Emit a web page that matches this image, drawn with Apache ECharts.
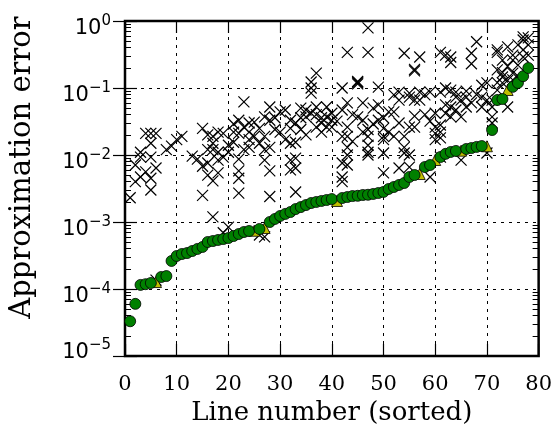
<!DOCTYPE html>
<html>
<head>
<meta charset="utf-8">
<script src="https://cdn.jsdelivr.net/npm/echarts@6/dist/echarts.min.js"></script>
<style>
  html, body { margin: 0; padding: 0; background: #fff; }
  #chart { width: 555px; height: 439px; }
</style>
</head>
<body>
<div id="chart"></div>
<script>
// Approximation error of each line, sorted (line 1 .. 78)
const sortedError = [
  3.3e-5, 6.0e-5, 1.15e-4, 1.18e-4, 1.23e-4, 1.27e-4, 1.51e-4, 1.56e-4, 2.62e-4, 3.11e-4,
  3.33e-4, 3.44e-4, 3.69e-4, 3.96e-4, 4.24e-4, 5.03e-4, 5.20e-4, 5.39e-4, 5.57e-4, 5.77e-4,
  6.18e-4, 6.62e-4, 7.09e-4, 7.34e-4, 7.40e-4, 7.87e-4, 8.13e-4, 1.00e-3, 1.11e-3, 1.23e-3,
  1.32e-3, 1.41e-3, 1.56e-3, 1.67e-3, 1.79e-3, 1.92e-3, 1.99e-3, 2.06e-3, 2.13e-3, 2.20e-3,
  2.06e-3, 2.28e-3, 2.36e-3, 2.44e-3, 2.46e-3, 2.53e-3, 2.55e-3, 2.62e-3, 2.71e-3, 2.81e-3,
  3.11e-3, 3.33e-3, 3.57e-3, 3.82e-3, 4.70e-3, 5.03e-3, 5.20e-3, 6.62e-3, 7.09e-3, 8.42e-3,
  9.34e-3, 1.04e-2, 1.11e-2, 1.15e-2, 1.16e-2, 1.23e-2, 1.27e-2, 1.32e-2, 1.36e-2, 1.35e-2,
  2.36e-2, 6.62e-2, 6.85e-2, 9.34e-2, 1.04e-1, 1.19e-1, 1.50e-1, 1.99e-1
];

// Lines whose sorted error is marked with a triangle instead of a circle
const triangleLines = [6, 25, 27, 41, 57, 60, 65, 70, 74];

// Errors of the alternative approximations, as [line, error]
const otherErrors = [
  [1, 2.3e-3], [2, 7.1e-3], [2, 4.0e-3],
  [3, 1.1e-2], [3, 9.3e-3], [3, 4.7e-3], [4, 2.1e-2], [4, 5.6e-3],
  [5, 1.5e-2], [5, 3.0e-3], [5, 2.1e-2], [5, 9.3e-3], [5, 4.5e-3],
  [6, 6.4e-3], [6, 1.36e-4], [6, 2.1e-2], [8, 1.2e-2], [9, 1.36e-2], [10, 1.7e-2], [11, 1.9e-2],
  [13, 9.6e-3], [14, 8.7e-3], [15, 2.5e-2], [15, 6.8e-3], [15, 2.5e-3],
  [16, 2.0e-2], [16, 7.6e-3], [16, 1.2e-2], [16, 5.0e-3],
  [17, 1.9e-2], [17, 1.2e-2], [17, 4.1e-3], [17, 1.5e-2], [17, 1.19e-3],
  [18, 8.4e-3], [18, 2.2e-2], [18, 1.1e-2], [18, 5.4e-3],
  [19, 9.3e-3], [19, 6.9e-4], [19, 2.1e-2], [20, 1.1e-2], [20, 8.4e-4], [20, 1.4e-2],
  [21, 2.9e-2], [21, 1.55e-2], [21, 2.2e-2],
  [22, 2.1e-2], [22, 8.7e-3], [22, 5.8e-3], [22, 4.5e-3], [22, 2.7e-3], [22, 3.3e-2],
  [23, 1.2e-2], [23, 6.2e-2], [23, 2.6e-2], [24, 3.0e-2], [24, 2.2e-2], [24, 1.7e-2], [24, 1.3e-2],
  [25, 3.1e-2], [25, 1.9e-2], [26, 6.4e-4], [26, 1.5e-2], [26, 2.5e-2],
  [27, 1.9e-2], [27, 1.2e-2], [27, 8.4e-3], [27, 6.0e-4], [27, 3.7e-2],
  [28, 5.2e-2], [28, 3.3e-2], [28, 1.3e-2], [28, 5.8e-3], [28, 2.4e-3],
  [29, 2.4e-2], [29, 3.6e-2], [30, 4.4e-2], [30, 2.2e-2], [31, 4.7e-2], [31, 1.7e-2],
  [32, 3.3e-2], [32, 2.5e-2], [32, 1.5e-2], [32, 8.4e-3], [32, 6.0e-3],
  [33, 3.0e-2], [33, 1.55e-2], [33, 9.0e-3], [33, 6.4e-3], [33, 2.8e-3],
  [34, 5.0e-2], [34, 3.6e-2], [34, 2.4e-2], [35, 4.7e-2], [35, 3.7e-2], [35, 2.0e-2],
  [36, 1.23e-1], [36, 1.0e-1], [36, 8.4e-2], [36, 4.2e-2],
  [37, 5.2e-2], [37, 1.67e-1], [37, 4.0e-2], [37, 2.6e-2],
  [38, 3.6e-2], [38, 3.0e-2], [38, 2.2e-2], [39, 5.2e-2], [39, 2.6e-2], [39, 3.7e-2],
  [40, 4.2e-2], [40, 2.6e-2], [40, 3.3e-2], [41, 3.2e-2],
  [42, 4.7e-2], [42, 1.9e-2], [42, 4.7e-3], [42, 1.0e-1], [42, 7.6e-3], [42, 4.0e-3],
  [43, 1.9e-2], [43, 1.0e-2], [43, 3.4e-1], [43, 2.6e-2], [43, 1.3e-2], [43, 7.1e-3], [43, 6.0e-2],
  [44, 4.0e-2], [44, 1.6e-2],
  [45, 1.15e-1], [45, 1.2e-1], [45, 1.25e-1], [45, 3.7e-2], [46, 6.0e-2], [46, 3.3e-2], [46, 2.2e-2],
  [47, 1.9e-2], [47, 7.9e-1], [47, 3.4e-1], [47, 2.4e-2], [47, 1.4e-2], [47, 1.1e-2], [47, 1.0e-2],
  [48, 5.0e-2], [48, 2.9e-2],
  [49, 1.03e-1], [49, 5.6e-2], [49, 3.3e-2],
  [50, 1.9e-2], [50, 1.07e-2], [50, 5.4e-3], [50, 3.6e-2], [50, 2.5e-2], [50, 1.7e-2],
  [51, 4.4e-2], [51, 2.2e-2],
  [52, 7.9e-2], [52, 1.9e-2], [52, 4.4e-2], [53, 8.7e-2], [53, 3.0e-2], [53, 6.4e-3], [53, 6.6e-2],
  [54, 1.3e-2], [54, 3.3e-1], [54, 1.9e-2], [54, 1.07e-2],
  [55, 1.0e-2], [55, 7.3e-2], [55, 2.6e-2], [55, 6.6e-3], [55, 8.4e-2],
  [56, 6.6e-2], [56, 1.8e-1], [56, 1.9e-1], [56, 2.6e-2], [56, 3.8e-2],
  [57, 2.9e-1], [57, 8.7e-2], [57, 6.6e-2], [58, 7.9e-2], [58, 4.0e-2],
  [59, 8.7e-2], [59, 4.7e-3], [59, 3.2e-2],
  [60, 4.2e-2], [60, 1.7e-2], [60, 2.6e-2], [60, 2.1e-2],
  [61, 3.4e-1], [61, 8.7e-2], [61, 2.8e-2], [61, 2.2e-2], [61, 1.8e-2], [61, 9.3e-3],
  [62, 3.1e-1], [62, 1.0e-1], [62, 4.2e-2], [62, 5.6e-2],
  [63, 2.9e-1], [63, 3.7e-2], [63, 2.4e-1], [63, 9.3e-2], [63, 5.2e-2],
  [64, 7.3e-2], [64, 4.7e-2], [64, 8.7e-2], [65, 6.6e-2], [65, 8.4e-3], [65, 3.7e-2],
  [66, 7.3e-2], [66, 5.2e-2], [66, 9.0e-2], [67, 3.3e-1], [67, 2.3e-1], [67, 6.0e-2],
  [68, 4.9e-1], [68, 8.0e-2],
  [69, 1.1e-1], [69, 7.3e-2], [69, 5.2e-2], [70, 1.19e-1], [70, 6.6e-2], [70, 1.07e-2],
  [71, 6.6e-2], [71, 3.7e-2], [71, 3.0e-2], [71, 5.2e-2],
  [72, 3.4e-1], [72, 1.86e-1], [72, 3.7e-1], [72, 9.3e-2], [72, 1.2e-1],
  [73, 1.46e-1], [73, 1.19e-1], [73, 2.6e-1], [73, 1.7e-1],
  [74, 4.1e-1], [74, 5.2e-2], [74, 2.1e-1], [74, 1.3e-1],
  [75, 1.67e-1], [75, 3.1e-1], [75, 2.6e-1], [75, 1.32e-1], [76, 4.4e-1], [76, 2.2e-1], [76, 1.5e-1],
  [77, 5.2e-1], [77, 5.8e-1], [77, 3.7e-1], [77, 2.9e-1], [78, 5.6e-1], [78, 4.4e-1], [78, 3.1e-1]
];

// Axis ranges and ticks
const xMin = 0, xMax = 80, xStep = 10;
const yMin = 1e-5, yMax = 1;

// Minor log ticks at 2..9 x 10^k
const yMinorTicks = [];
for (let k = -5; k < 0; k++) {
  for (let m = 2; m <= 9; m++) yMinorTicks.push(m * Math.pow(10, k));
}

const circlePoints = sortedError
  .map((v, i) => [i + 1, v])
  .filter(p => triangleLines.indexOf(p[0]) < 0);
const trianglePoints = triangleLines.map(l => [l, sortedError[l - 1]]);

const gridDash = [3, 5];
const serif = 'DejaVu Serif';
const sans = 'DejaVu Sans';

function yLabel(v) {
  const e = Math.round(Math.log10(v));
  const t = e < 0 ? '\u2212' + (-e) : String(e);
  return e === -5 ? '{b5|10}{s5|' + t + '}' : '{b|10}{s|' + t + '}';
}

const base = { fontFamily: sans, fontSize: 21, lineHeight: 22, verticalAlign: 'bottom', color: '#000' };
const sup = { fontFamily: sans, fontSize: 15, lineHeight: 16, verticalAlign: 'bottom', color: '#000' };

function minorAxis(pos) {
  return {
    type: 'log', logBase: 10, min: yMin, max: yMax, position: pos,
    axisLine: { show: false },
    axisLabel: { show: false },
    splitLine: { show: false },
    axisTick: { show: true, inside: true, length: 6, customValues: yMinorTicks,
                lineStyle: { color: '#000', width: 1 } }
  };
}

const chart = echarts.init(document.getElementById('chart'));
chart.setOption({
  animation: false,
  backgroundColor: '#fff',
  grid: { left: 124, right: 15, top: 21, bottom: 83, show: true,
          borderColor: '#000', borderWidth: 2.5, backgroundColor: 'transparent' },
  xAxis: [
    {
      type: 'value', min: xMin, max: xMax, interval: xStep, position: 'bottom',
      axisLine: { show: false },
      axisTick: { inside: true, length: 12, lineStyle: { color: '#000', width: 1.2 } },
      axisLabel: { margin: 18, color: '#000', fontFamily: serif, fontSize: 21 },
      splitLine: { show: true, lineStyle: { color: '#000', width: 1, type: gridDash } },
      name: 'Line number (sorted)', nameLocation: 'middle', nameGap: 43,
      nameTextStyle: { fontFamily: serif, fontSize: 26, color: '#000' }
    },
    {
      type: 'value', min: xMin, max: xMax, interval: xStep, position: 'top',
      axisLine: { show: false },
      axisTick: { inside: true, length: 12, lineStyle: { color: '#000', width: 1.2 } },
      axisLabel: { show: false },
      splitLine: { show: false }
    }
  ],
  yAxis: [
    {
      type: 'log', logBase: 10, min: yMin, max: yMax, position: 'left',
      axisLine: { show: false },
      axisTick: { inside: true, length: 12, lineStyle: { color: '#000', width: 1.2 } },
      axisLabel: {
        margin: 14, padding: [15, 0, 0, 0], formatter: yLabel,
        rich: {
          b: base,
          s: Object.assign({}, sup, { padding: [0, 0, 11, 0] }),
          b5: Object.assign({}, base, { padding: [0, 0, 11, 0] }),
          s5: Object.assign({}, sup, { padding: [0, 0, 22, 0] })
        }
      },
      splitLine: { show: true, lineStyle: { color: '#000', width: 1, type: gridDash } },
      name: 'Approximation error', nameLocation: 'middle', nameGap: 88, nameRotate: 90,
      nameTextStyle: { fontFamily: serif, fontSize: 29, color: '#000', padding: [0, 0, 0, 42] }
    },
    {
      type: 'log', logBase: 10, min: yMin, max: yMax, position: 'right',
      axisLine: { show: false },
      axisTick: { inside: true, length: 12, lineStyle: { color: '#000', width: 1.2 } },
      axisLabel: { show: false },
      splitLine: { show: false }
    },
    minorAxis('left'),
    minorAxis('right')
  ],
  series: [
    {
      type: 'scatter', name: 'other', data: otherErrors, z: 2,
      symbol: 'path://M0,0L10,10M10,0L0,10', symbolSize: 11,
      itemStyle: { color: 'none', borderColor: '#000', borderWidth: 1.2, opacity: 1 },
      emphasis: { disabled: true }
    },
    {
      type: 'scatter', name: 'triangle', data: trianglePoints, z: 3,
      symbol: 'triangle', symbolSize: 11,
      itemStyle: { color: '#bfbf00', borderColor: '#000', borderWidth: 0.8, opacity: 1 },
      emphasis: { disabled: true }
    },
    {
      type: 'scatter', name: 'sorted', data: circlePoints, z: 4,
      symbol: 'circle', symbolSize: 11,
      itemStyle: { color: '#008000', borderColor: '#000', borderWidth: 0.8, opacity: 1 },
      emphasis: { disabled: true }
    }
  ]
});
</script>
</body>
</html>
